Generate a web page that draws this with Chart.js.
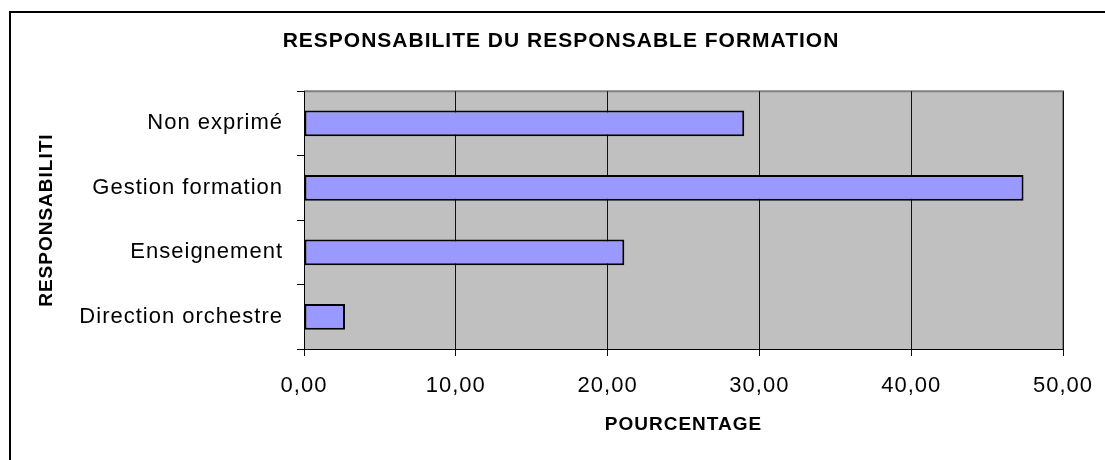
<!DOCTYPE html>
<html>
<head>
<meta charset="utf-8">
<script src="https://cdn.jsdelivr.net/npm/chart.js@4.4.1/dist/chart.umd.min.js"></script>
<style>
  html, body { margin: 0; padding: 0; background: #fff; }
  #wrap { width: 1105px; height: 460px; }
</style>
</head>
<body>
<div id="wrap"><canvas id="c" width="1105" height="460"></canvas></div>
<script>
const categories = ['Non exprimé', 'Gestion formation', 'Enseignement', 'Direction orchestre'];
const percentages = [29.0, 47.4, 21.1, 2.7];
const xTickValues = [0, 10, 20, 30, 40, 50];
const chartTitle = 'RESPONSABILITE DU RESPONSABLE FORMATION';
const xAxisTitle = 'POURCENTAGE';
const yAxisTitle = 'RESPONSABILITI';

const FONT = "'Liberation Sans', Arial, sans-serif";

const bgPlugin = {
  id: 'bg',
  beforeLayout(chart) { chart.ctx.letterSpacing = '1px'; },
  beforeDraw(chart) {
    const ctx = chart.ctx, a = chart.chartArea;
    ctx.save();
    ctx.fillStyle = '#fff';
    ctx.fillRect(0, 0, chart.width, chart.height);
    ctx.strokeStyle = '#000';
    ctx.lineWidth = 2;
    ctx.strokeRect(10, 12, 1300, 700);
    ctx.fillStyle = '#C0C0C0';
    ctx.fillRect(a.left, a.top, a.right - a.left, a.bottom - a.top);
    ctx.strokeStyle = '#808080';
    ctx.lineWidth = 2;
    ctx.beginPath();
    ctx.moveTo(a.left, a.top);
    ctx.lineTo(a.right, a.top);
    ctx.lineTo(a.right, a.bottom);
    ctx.stroke();
    ctx.restore();
    ctx.letterSpacing = '1px';
  }
};

new Chart(document.getElementById('c'), {
  type: 'bar',
  data: {
    labels: categories,
    datasets: [{
      data: percentages,
      backgroundColor: '#9999FF',
      borderColor: '#000',
      borderWidth: 2,
      borderSkipped: false,
      barPercentage: 0.4,
      categoryPercentage: 1
    }]
  },
  plugins: [bgPlugin],
  options: {
    indexAxis: 'y',
    responsive: false,
    animation: false,
    devicePixelRatio: 1,
    layout: { padding: { left: 59, right: 42, top: 0, bottom: 0 } },
    plugins: {
      legend: { display: false },
      tooltip: { enabled: false },
      title: {
        display: true,
        text: chartTitle,
        color: '#000',
        font: { family: FONT, size: 21, weight: 'bold' },
        padding: { top: 29, bottom: 37 }
      }
    },
    scales: {
      x: {
        min: 0, max: 50,
        afterBuildTicks(scale) { scale.ticks = xTickValues.map(v => ({ value: v })); },
        afterFit(scale) { scale.height = 111; scale.paddingLeft = 0; scale.paddingRight = 0; },
        ticks: {
          color: '#000',
          font: { family: FONT, size: 22 },
          padding: 17,
          maxRotation: 0,
          autoSkip: false,
          callback: (v) => Number(v).toFixed(2).replace('.', ',')
        },
        grid: { color: '#111', lineWidth: 1, tickLength: 7, drawTicks: true },
        border: { color: '#000', width: 1 },
        title: {
          display: true,
          text: xAxisTitle,
          color: '#000',
          font: { family: FONT, size: 19, weight: 'bold' },
          padding: { top: 0, bottom: 23.6 }
        }
      },
      y: {
        afterFit(scale) { scale.width = 304 - 59; },
        ticks: {
          color: '#000',
          font: { family: FONT, size: 22 },
          padding: 14
        },
        grid: { drawOnChartArea: false, color: '#000', tickLength: 7, offset: true },
        border: { color: '#000', width: 1 },
        title: {
          display: true,
          text: yAxisTitle,
          color: '#000',
          font: { family: FONT, size: 19, weight: 'bold' },
          padding: { top: -23.4, bottom: 0 }
        }
      }
    }
  }
});
</script>
</body>
</html>
